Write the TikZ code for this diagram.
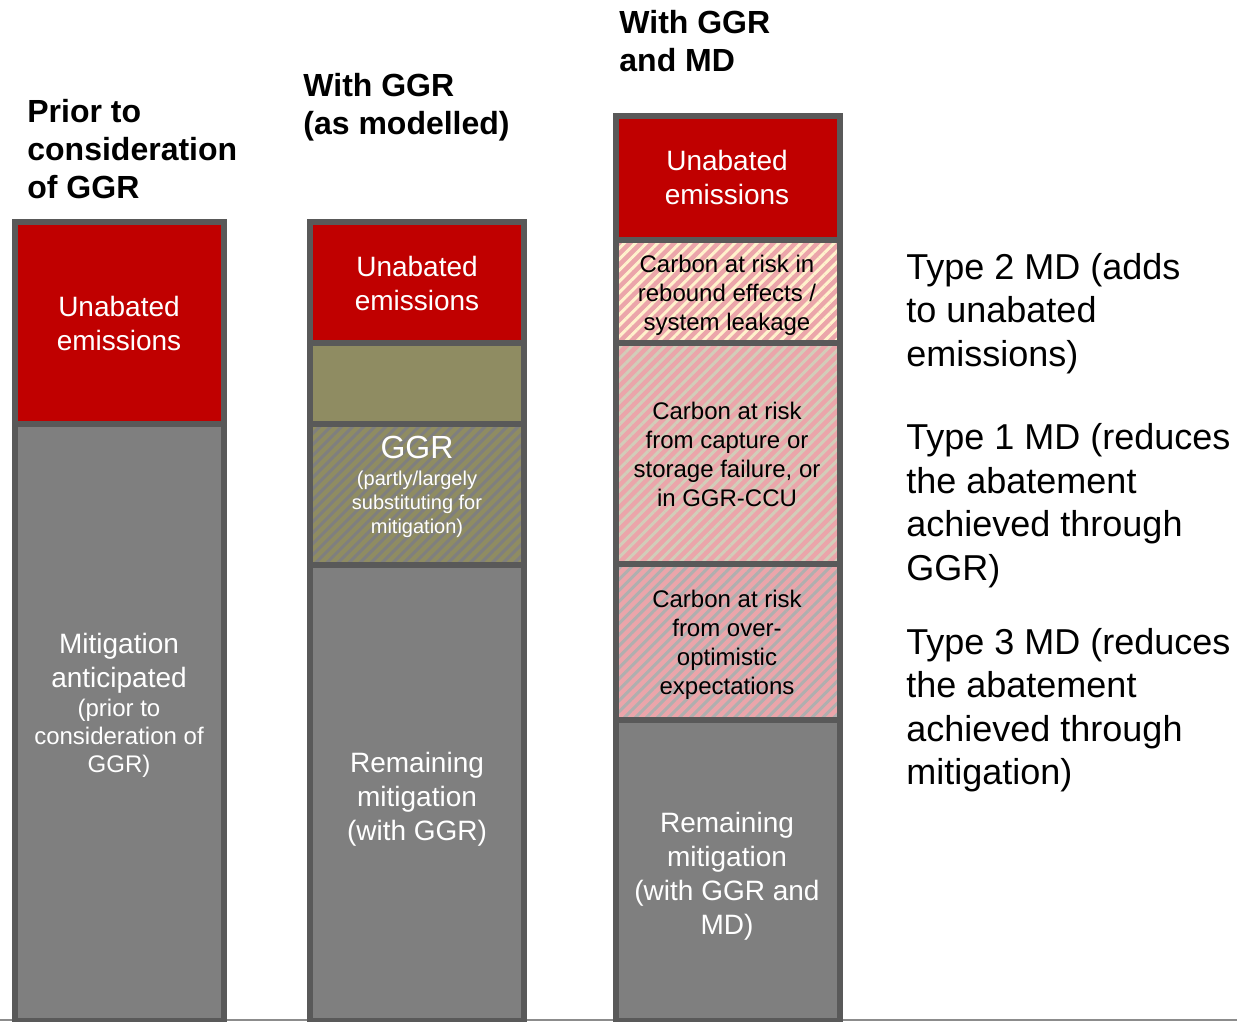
\documentclass[tikz,border=0pt]{standalone}
\usepackage{fontspec}
\setmainfont{Liberation Sans}
\usetikzlibrary{patterns.meta}

\definecolor{unabred}{HTML}{C00000}
\definecolor{mitgrey}{HTML}{7F7F7F}
\definecolor{edgegrey}{HTML}{595959}
\definecolor{ggrolive}{HTML}{8F8C62}
\definecolor{riskpink}{HTML}{EBA5AA}
\definecolor{cream}{HTML}{FFF2CC}
\definecolor{stone}{HTML}{D2CDB9}
\definecolor{ash}{HTML}{AFAFAF}

\begin{document}
\begin{tikzpicture}[x=0.5pt,y=-0.5pt,
    seg/.style={draw=edgegrey,line width=3pt},
    hatch/.style 2 args={seg,preaction={fill=#1},
      pattern={Lines[angle=45,distance=3.9pt,line width=1.5pt]},pattern color=#2},
    head/.style={anchor=west,inner sep=0pt,align=left,
      font=\fontsize{16}{19}\selectfont\bfseries},
    side/.style={anchor=west,inner sep=0pt,align=left,
      font=\fontsize{18}{21.75}\selectfont},
    wbig/.style={text=white,align=center,font=\fontsize{14}{17}\selectfont},
    wsmall/.style={text=white,align=center,font=\fontsize{12}{14}\selectfont},
    risk/.style={align=center,font=\fontsize{12}{14.5}\selectfont}]

  \useasboundingbox (0,0) rectangle (1237,1022);
  \draw[gray!90,line width=1pt] (0,1020) -- (1237,1020);

  % prior to GGR
  \draw[seg,fill=mitgrey] (15,423.5) rectangle (224,1021);
  \draw[seg,fill=unabred] (15,222) rectangle (224,423.5);

  % with GGR as modelled
  \draw[seg,fill=mitgrey] (310,565) rectangle (524,1021);
  \draw[hatch={ggrolive}{mitgrey}] (310,424) rectangle (524,565);
  \draw[seg,fill=ggrolive] (310,343) rectangle (524,424);
  \draw[seg,fill=unabred] (310,222) rectangle (524,343);

  % with GGR and MD
  \draw[seg,fill=mitgrey] (615.5,719.5) rectangle (840,1021);
  \draw[hatch={riskpink}{ash}] (615.5,563.5) rectangle (840,719.5);
  \draw[hatch={riskpink}{stone}] (615.5,343) rectangle (840,563.5);
  \draw[hatch={riskpink}{cream}] (615.5,239.5) rectangle (840,343);
  \draw[seg,fill=unabred] (615.5,116) rectangle (840,239.5);

  % headings
  \node[head] (prior) at (27,149) {Prior to\\consideration\\of GGR};
  \node[head] (withggr) at (303,107) {With GGR\\(as modelled)};
  \node[head] (withmd) at (619,41.5) {With GGR\\and MD};

  % column texts
  \node[wbig] (unab1) at (119,323) {Unabated\\emissions};
  \node[wbig] (mitig1) at (119,663) {Mitigation\\anticipated};
  \node[wsmall] (prior1) at (119,738) {(prior to\\consideration of\\GGR)};

  \node[wbig] (unab2) at (417,283) {Unabated\\emissions};
  \node[text=white,font=\fontsize{16}{19}\selectfont] (ggr2) at (417,447) {GGR};
  \node[text=white,align=center,font=\fontsize{10}{12}\selectfont] (subst2) at (417,504)
    {(partly/largely\\substituting for\\mitigation)};
  \node[wbig] (remain2) at (417,799) {Remaining\\mitigation\\(with GGR)};

  \node[wbig] (unab3) at (727,177) {Unabated\\emissions};
  \node[risk] (rebound3) at (727,295.5) {Carbon at risk in\\rebound effects /\\system leakage};
  \node[risk] (capture3) at (727,454) {Carbon at risk\\from capture or\\storage failure, or\\in GGR-CCU};
  \node[risk] (optim3) at (727,644.5) {Carbon at risk\\from over-\\optimistic\\expectations};
  \node[wbig] (remain3) at (727,876) {Remaining\\mitigation\\(with GGR and\\MD)};

  % MD types
  \node[side] (type2) at (906,313.5) {Type 2 MD (adds\\to unabated\\emissions)};
  \node[side] (type1) at (906,505.5) {Type 1 MD (reduces\\the abatement\\achieved through\\GGR)};
  \node[side] (type3) at (906,710) {Type 3 MD (reduces\\the abatement\\achieved through\\mitigation)};
\end{tikzpicture}
\end{document}
